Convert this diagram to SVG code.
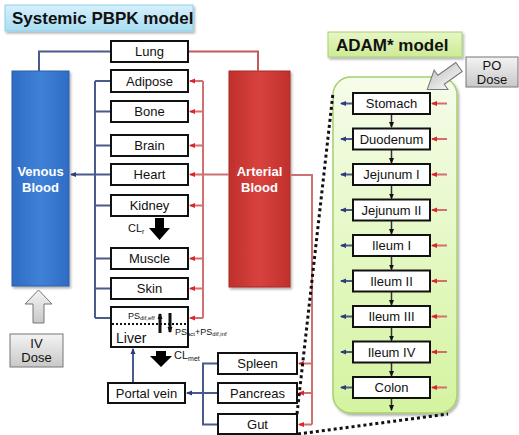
<svg xmlns="http://www.w3.org/2000/svg" width="519" height="435" viewBox="0 0 519 435">
<defs>
<linearGradient id="gTitle" x1="0" y1="0" x2="0" y2="1"><stop offset="0" stop-color="#d6f0fb"/><stop offset="1" stop-color="#a9ddf3"/></linearGradient>
<linearGradient id="gAdamT" x1="0" y1="0" x2="0" y2="1"><stop offset="0" stop-color="#e6f6c6"/><stop offset="1" stop-color="#cdeb96"/></linearGradient>
<linearGradient id="gAdam" x1="0" y1="0" x2="0" y2="1"><stop offset="0" stop-color="#f6fcea"/><stop offset="1" stop-color="#d4f4a0"/></linearGradient>
<linearGradient id="gVen" x1="0" y1="0" x2="1" y2="0"><stop offset="0" stop-color="#2f6cc4"/><stop offset="0.5" stop-color="#3f82d8"/><stop offset="1" stop-color="#2f6cc4"/></linearGradient>
<linearGradient id="gArt" x1="0" y1="0" x2="1" y2="0"><stop offset="0" stop-color="#c0302c"/><stop offset="0.5" stop-color="#d8423e"/><stop offset="1" stop-color="#c0302c"/></linearGradient>
<linearGradient id="gGray" x1="0" y1="0" x2="0" y2="1"><stop offset="0" stop-color="#f4f4f4"/><stop offset="1" stop-color="#c8c8c8"/></linearGradient>
<marker id="aB" markerWidth="6" markerHeight="6" refX="5" refY="3" orient="auto" markerUnits="userSpaceOnUse"><path d="M0,0.5 L6,3 L0,5.5 Z" fill="#2c3d78"/></marker>
<marker id="aR" markerWidth="6" markerHeight="6" refX="5" refY="3" orient="auto" markerUnits="userSpaceOnUse"><path d="M0,0.5 L6,3 L0,5.5 Z" fill="#e0242a"/></marker>
<marker id="aK" markerWidth="6" markerHeight="6" refX="5" refY="3" orient="auto" markerUnits="userSpaceOnUse"><path d="M0,0.5 L6,3 L0,5.5 Z" fill="#111"/></marker>
<filter id="sh" x="-10%" y="-10%" width="130%" height="130%"><feDropShadow dx="1.5" dy="2" stdDeviation="1.2" flood-color="#000" flood-opacity="0.3"/></filter>
</defs>
<style>
text{font-family:"Liberation Sans",Arial,sans-serif;fill:#111}
.box{fill:#fff;stroke:#111;stroke-width:2}
.lbl{font-size:13px;text-anchor:middle}
.ttl{font-size:17px;font-weight:bold}
.bl{fill:none;stroke:#4a5a8c;stroke-width:2}
.rd{fill:none;stroke:#c65a5a;stroke-width:2}
.rdl{fill:none;stroke:#d07070;stroke-width:2}
.kl{fill:none;stroke:#333;stroke-width:1.5}
.dot{fill:none;stroke:#111;stroke-width:3;stroke-dasharray:3,3}
.wh{fill:#fff;font-size:13px;font-weight:bold;text-anchor:middle}
.gray{fill:url(#gGray);stroke:#777;stroke-width:1}
.small{font-size:9px}
.sub{font-size:6px}
</style>

<g id="title-systemic"><rect x="5" y="5" width="188" height="26" fill="url(#gTitle)" stroke="#8fcfe8" stroke-width="1" filter="url(#sh)"/><text class="ttl" x="12" y="24">Systemic PBPK model</text></g>
<g id="title-adam"><rect x="328" y="32" width="134" height="25" fill="url(#gAdamT)" stroke="#a8d070" stroke-width="1" filter="url(#sh)"/><text class="ttl" x="336" y="51">ADAM* model</text></g>

<g id="adam-container"><rect x="333" y="77" width="124" height="336" rx="18" fill="url(#gAdam)" stroke="#a6cf6f" stroke-width="1.5" filter="url(#sh)"/></g>

<g id="venous-blood"><rect x="12" y="71" width="57" height="215" fill="url(#gVen)" stroke="#2b5ea8" stroke-width="1" filter="url(#sh)"/><text class="wh" x="40.5" y="176">Venous</text><text class="wh" x="40.5" y="192">Blood</text></g>
<g id="arterial-blood"><rect x="229" y="71" width="61" height="216" fill="url(#gArt)" stroke="#a52a26" stroke-width="1" filter="url(#sh)"/><text class="wh" x="259.5" y="176">Arterial</text><text class="wh" x="259.5" y="192">Blood</text></g>

<g id="connectors">
<path class="bl" d="M111,51.5 H39 V71"/>
<path class="rd" d="M188,51.5 H258 V71"/>
<path class="bl" d="M95,81 V318"/>
<path class="bl" d="M95,81 H111 M95,111.5 H111 M95,145.5 H111 M95,205.5 H111 M95,258.5 H111 M95,288.5 H111 M95,318 H111"/>
<path class="bl" d="M111,174.5 H71" marker-end="url(#aB)"/>
<path class="rdl" d="M203,81 V318"/>
<path class="rdl" d="M203,81 H190" marker-end="url(#aR)"/>
<path class="rdl" d="M203,111.5 H190" marker-end="url(#aR)"/>
<path class="rdl" d="M203,145.5 H190" marker-end="url(#aR)"/>
<path class="rdl" d="M229,174.5 H190" marker-end="url(#aR)"/>
<path class="rdl" d="M203,205.5 H190" marker-end="url(#aR)"/>
<path class="rdl" d="M203,258.5 H190" marker-end="url(#aR)"/>
<path class="rdl" d="M203,288.5 H190" marker-end="url(#aR)"/>
<path class="rdl" d="M203,318 H190" marker-end="url(#aR)"/>
<path class="rdl" d="M290,175 H312 V424.5"/>
<path class="rdl" d="M312,363.5 H299" marker-end="url(#aR)"/>
<path class="rdl" d="M312,393 H299" marker-end="url(#aR)"/>
<path class="rdl" d="M312,424.5 H299" marker-end="url(#aR)"/>
<path class="bl" d="M218,363.5 H203 V424.5 H218 M203,393 H218"/>
<path class="bl" d="M203,393 H187" marker-end="url(#aB)"/>
<path class="bl" d="M133,383 V349" marker-end="url(#aB)"/>
<path class="kl" d="M391.5,114 V127" marker-end="url(#aK)"/>
<path class="kl" d="M391.5,149.5 V163" marker-end="url(#aK)"/>
<path class="kl" d="M391.5,185 V198.5" marker-end="url(#aK)"/>
<path class="kl" d="M391.5,220.5 V234" marker-end="url(#aK)"/>
<path class="kl" d="M391.5,256 V269.5" marker-end="url(#aK)"/>
<path class="kl" d="M391.5,291.5 V305" marker-end="url(#aK)"/>
<path class="kl" d="M391.5,327 V340.5" marker-end="url(#aK)"/>
<path class="kl" d="M391.5,362.5 V376" marker-end="url(#aK)"/>
<path class="kl" d="M391.5,398 V410" marker-end="url(#aK)"/>
<g class="bl">
<path d="M353,103.5 H341" marker-end="url(#aB)"/>
<path d="M353,139 H341" marker-end="url(#aB)"/>
<path d="M353,174.5 H341" marker-end="url(#aB)"/>
<path d="M353,210 H341" marker-end="url(#aB)"/>
<path d="M353,245.5 H341" marker-end="url(#aB)"/>
<path d="M353,281 H341" marker-end="url(#aB)"/>
<path d="M353,316.5 H341" marker-end="url(#aB)"/>
<path d="M353,352 H341" marker-end="url(#aB)"/>
<path d="M353,387.5 H341" marker-end="url(#aB)"/>
</g>
<g class="rdl">
<path d="M447,103.5 H432" marker-end="url(#aR)"/>
<path d="M447,139 H432" marker-end="url(#aR)"/>
<path d="M447,174.5 H432" marker-end="url(#aR)"/>
<path d="M447,210 H432" marker-end="url(#aR)"/>
<path d="M447,245.5 H432" marker-end="url(#aR)"/>
<path d="M447,281 H432" marker-end="url(#aR)"/>
<path d="M447,316.5 H432" marker-end="url(#aR)"/>
<path d="M447,352 H432" marker-end="url(#aR)"/>
<path d="M447,387.5 H432" marker-end="url(#aR)"/>
</g>
<path class="dot" d="M297,414 L333,93"/>
<path class="dot" d="M298,434 L448,414"/>
</g>

<g id="lung"><rect class="box" x="111" y="41" width="77" height="21"/><text class="lbl" x="149.5" y="56">Lung</text></g>
<g id="adipose"><rect class="box" x="111" y="70" width="77" height="22"/><text class="lbl" x="149.5" y="85.5">Adipose</text></g>
<g id="bone"><rect class="box" x="111" y="101" width="77" height="21"/><text class="lbl" x="149.5" y="116">Bone</text></g>
<g id="brain"><rect class="box" x="111" y="135" width="77" height="21"/><text class="lbl" x="149.5" y="150">Brain</text></g>
<g id="heart"><rect class="box" x="111" y="164" width="77" height="21"/><text class="lbl" x="149.5" y="179">Heart</text></g>
<g id="kidney"><rect class="box" x="111" y="195" width="77" height="21"/><text class="lbl" x="149.5" y="210">Kidney</text></g>
<g id="cl-r"><path d="M155,218 H164 V228 H170 L159.5,240 L149,228 H155 Z" fill="#000"/><text x="128" y="232" font-size="11">CL<tspan font-size="7" dy="2">r</tspan></text></g>
<g id="muscle"><rect class="box" x="111" y="248" width="77" height="21"/><text class="lbl" x="149.5" y="263">Muscle</text></g>
<g id="skin"><rect class="box" x="111" y="278" width="77" height="21"/><text class="lbl" x="149.5" y="293">Skin</text></g>
<g id="liver"><rect class="box" x="111" y="307" width="77" height="40"/>
<path d="M112,324 H187" stroke="#111" stroke-width="2" stroke-dasharray="2,2" fill="none"/>
<text class="small" x="128" y="319">PS<tspan class="sub" dy="1">dif,eff</tspan></text>
<path d="M160,333 V314" stroke="#111" stroke-width="3" marker-end="url(#aK)"/>
<path d="M170,313 V332" stroke="#111" stroke-width="3" marker-end="url(#aK)"/>
<text x="116" y="343" font-size="14">Liver</text>
<text class="small" x="175" y="335">PS<tspan class="sub" dy="1">act</tspan><tspan dy="-1">+PS</tspan><tspan class="sub" dy="1">dif,inf</tspan></text></g>
<g id="cl-met"><path d="M156,351 H166 V356 H172 L161,367 L150,356 H156 Z" fill="#000"/><text x="174" y="359" font-size="11">CL<tspan font-size="7" dy="2">met</tspan></text></g>
<g id="portal-vein"><rect class="box" x="108" y="383" width="77" height="20"/><text class="lbl" x="146.5" y="397.5">Portal vein</text></g>
<g id="spleen"><rect class="box" x="218" y="353" width="79" height="21"/><text class="lbl" x="257.5" y="368">Spleen</text></g>
<g id="pancreas"><rect class="box" x="218" y="383" width="79" height="20"/><text class="lbl" x="257.5" y="397.5">Pancreas</text></g>
<g id="gut"><rect class="box" x="218" y="414" width="79" height="20"/><text class="lbl" x="257.5" y="428.5">Gut</text></g>

<g id="iv-dose"><path d="M33,323 V304 H25 L38.5,290 L52,304 H44 V323 Z" class="gray"/><rect class="gray" x="10" y="334" width="53" height="33"/><text class="lbl" x="36.5" y="348">IV</text><text class="lbl" x="36.5" y="362">Dose</text></g>
<g id="po-dose"><rect class="gray" x="466" y="57" width="52" height="30"/><text class="lbl" x="492" y="70">PO</text><text class="lbl" x="492" y="84">Dose</text>
<path class="gray" transform="translate(459,67) rotate(144.6)" d="M0,-5.5 H22 V-12 L39,0 L22,12 V5.5 H0 Z"/></g>

<g id="stomach"><rect class="box" x="353" y="93" width="77" height="21"/><text class="lbl" x="391.5" y="108">Stomach</text></g>
<g id="duodenum"><rect class="box" x="353" y="128.5" width="77" height="21"/><text class="lbl" x="391.5" y="143.5">Duodenum</text></g>
<g id="jejunum1"><rect class="box" x="353" y="164" width="77" height="21"/><text class="lbl" x="391.5" y="179">Jejunum I</text></g>
<g id="jejunum2"><rect class="box" x="353" y="199.5" width="77" height="21"/><text class="lbl" x="391.5" y="214.5">Jejunum II</text></g>
<g id="ileum1"><rect class="box" x="353" y="235" width="77" height="21"/><text class="lbl" x="391.5" y="250">Ileum I</text></g>
<g id="ileum2"><rect class="box" x="353" y="270.5" width="77" height="21"/><text class="lbl" x="391.5" y="285.5">Ileum II</text></g>
<g id="ileum3"><rect class="box" x="353" y="306" width="77" height="21"/><text class="lbl" x="391.5" y="321">Ileum III</text></g>
<g id="ileum4"><rect class="box" x="353" y="341.5" width="77" height="21"/><text class="lbl" x="391.5" y="356.5">Ileum IV</text></g>
<g id="colon"><rect class="box" x="353" y="377" width="77" height="21"/><text class="lbl" x="391.5" y="392">Colon</text></g>
</svg>
